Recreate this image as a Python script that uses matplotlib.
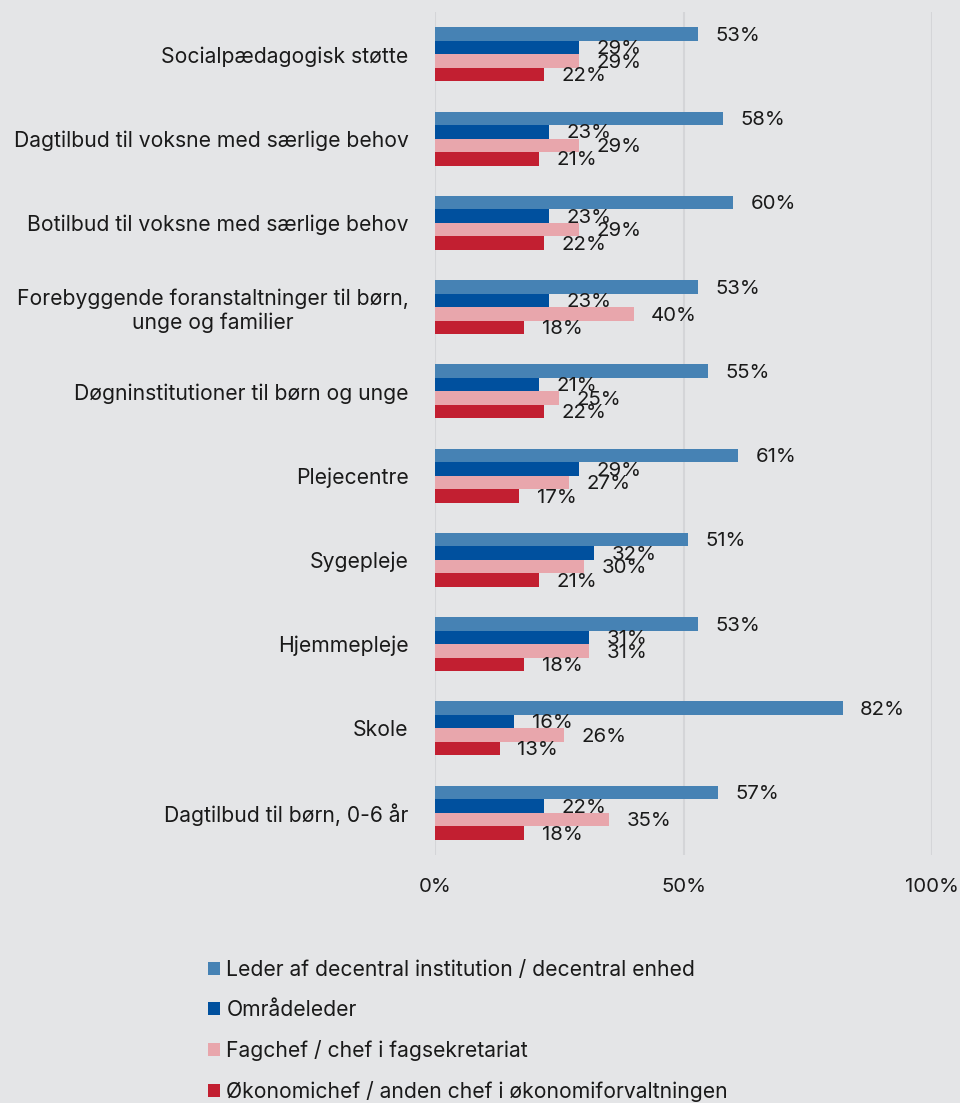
import matplotlib.pyplot as plt
import numpy as np
from matplotlib.patches import Patch

plt.rcParams['font.family'] = ['Inter', 'DejaVu Sans']

# Data: share of respondents per area and role (%)
categories = [
    "Socialpædagogisk støtte",
    "Dagtilbud til voksne med særlige behov",
    "Botilbud til voksne med særlige behov",
    "Forebyggende foranstaltninger til børn,\nunge og familier",
    "Døgninstitutioner til børn og unge",
    "Plejecentre",
    "Sygepleje",
    "Hjemmepleje",
    "Skole",
    "Dagtilbud til børn, 0-6 år",
]
series_names = [
    "Leder af decentral institution / decentral enhed",
    "Områdeleder",
    "Fagchef / chef i fagsekretariat",
    "Økonomichef / anden chef i økonomiforvaltningen",
]
leder = [53, 58, 60, 53, 55, 61, 51, 53, 82, 57]
omraadeleder = [29, 23, 23, 23, 21, 29, 32, 31, 16, 22]
fagchef = [29, 29, 29, 40, 25, 27, 30, 31, 26, 35]
oekonomichef = [22, 21, 22, 18, 22, 17, 21, 18, 13, 18]

colors = ["#4682b4", "#00509e", "#e8a6ac", "#c21f31"]
bg = "#e4e5e7"
text_col = "#1a1a1a"

fig = plt.figure(figsize=(9.6, 11.03), dpi=100, facecolor=bg)
ax = fig.add_axes([0.453, 0.225, 0.518, 0.764], facecolor=bg)

y = np.arange(len(categories))
bar_h = 0.16
all_series = [leder, omraadeleder, fagchef, oekonomichef]
for i, (vals, col) in enumerate(zip(all_series, colors)):
    pos = y + (i - 1.5) * bar_h
    ax.barh(pos, vals, height=bar_h, color=col, zorder=2)
    for p, v in zip(pos, vals):
        ax.text(v + 3.5, p + 0.02, f"{v}%", va="center", ha="left",
                fontsize=14.7, color=text_col, zorder=3)

ax.set_ylim(len(categories) - 0.5, -0.5)
ax.set_xlim(0, 100)
ax.set_yticks(y)
ax.set_yticklabels(categories, fontsize=15.2, color=text_col, ha="right",
                   multialignment="center")
ax.tick_params(axis="y", length=0, pad=19)
ax.set_xticks([0, 50, 100])
ax.set_xticklabels(["0%", "50%", "100%"], fontsize=14.7, color=text_col)
ax.tick_params(axis="x", length=0, pad=17)
ax.grid(axis="x", color="#d4d5d8", linewidth=1.5, zorder=0)
for s in ax.spines.values():
    s.set_visible(False)

handles = [Patch(facecolor=c, edgecolor="none") for c in colors]
fig.legend(handles, series_names, loc="upper left", bbox_to_anchor=(0.197, 0.147),
           frameon=False, fontsize=15.2, handlelength=0.57, handleheight=0.57,
           handletextpad=0.3, labelspacing=0.95, labelcolor=text_col)

fig.savefig("out.png", dpi=100, facecolor=bg)
